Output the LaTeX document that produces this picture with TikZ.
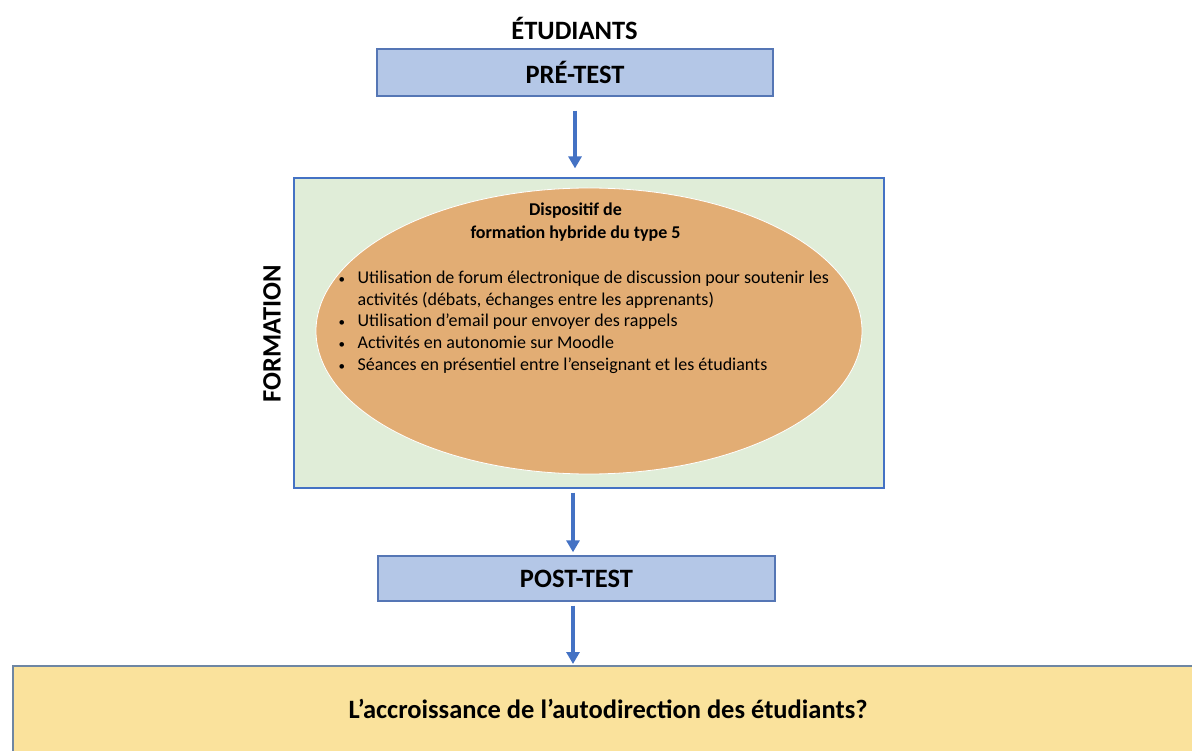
\documentclass[tikz,border=0pt]{standalone}
\usepackage{fontspec}
\setmainfont{Carlito}
\usetikzlibrary{shapes.geometric,arrows.meta}
\definecolor{boxblue}{HTML}{B4C7E7}
\definecolor{boxblueline}{HTML}{5576B5}
\definecolor{greenfill}{HTML}{E0EDD8}
\definecolor{framered}{HTML}{4472C4}
\definecolor{orangefill}{HTML}{E2AD74}
\definecolor{yellowfill}{HTML}{FAE29C}
\definecolor{yellowline}{HTML}{6E86A3}
\definecolor{arrowblue}{HTML}{4472C4}
\tikzset{
  testbox/.style={draw=boxblueline, line width=1.4pt, fill=boxblue, inner sep=0pt},
  bigtext/.style={font=\fontsize{26.5}{30}\selectfont\bfseries, inner sep=0pt},
  flowarrow/.style={draw=arrowblue, line width=3.2pt, -{Triangle[width=13pt,length=12pt]}},
}
\newcommand{\smallbul}{{\fontsize{13}{13}\selectfont\textbullet}}
\begin{document}
\begin{tikzpicture}[x=1pt,y=-1pt]
\useasboundingbox (0,0) rectangle (1192,751);
\clip (0,0) rectangle (1192,751);
% title
\node[bigtext] (etud) at (574.5,28) {ÉTUDIANTS};
% pre-test
\node[testbox, minimum width=396pt, minimum height=47pt] (pre) at (575,72.5) {};
\node[bigtext] (pretxt) at (pre.center) {PRÉ-TEST};
% formation frame
\node[draw=framered, line width=1.2pt, fill=greenfill, minimum width=590pt, minimum height=310pt, inner sep=0pt] (form) at (589,333) {};
\node[bigtext, rotate=90] (formlab) at (272,334) {FORMATION};
% ellipse
\node[ellipse, fill=orangefill, draw=white, line width=0.8pt, minimum width=546pt, minimum height=286pt, inner sep=0pt] (ell) at (589,331) {};
\node[font=\fontsize{18}{22.5}\selectfont\bfseries, align=center, inner sep=0pt] (elltitle) at (575.5,222) {Dispositif de\\formation hybride du type 5};
\node[anchor=north west, inner sep=0pt, font=\fontsize{18}{21.7}\selectfont] (list) at (338.5,268) {%
\begin{tabular}{@{}l@{\hspace{12.5pt}}l@{}}
\smallbul & Utilisation de forum électronique de discussion pour soutenir les\\
 & activités (débats, échanges entre les apprenants)\\
\smallbul & Utilisation d’email pour envoyer des rappels\\
\smallbul & Activités en autonomie sur Moodle\\
\smallbul & Séances en présentiel entre l’enseignant et les étudiants
\end{tabular}};
% post-test
\node[testbox, minimum width=397pt, minimum height=45pt] (post) at (576.5,578.5) {};
\node[bigtext] (posttxt) at (post.center) {POST-TEST};
% result
\node[draw=yellowline, line width=1.6pt, fill=yellowfill, anchor=north west, minimum width=1200pt, minimum height=100pt, inner sep=0pt] (res) at (12,665) {};
\node[bigtext] (restxt) at (608,709) {L’accroissance de l’autodirection des étudiants?};
% arrows
\coordinate (lineA) at (575,0);
\coordinate (lineB) at (573,0);
\draw[flowarrow, shorten <=14pt, shorten >=9pt] (pre.south -| lineA) -- (form.north -| lineA);
\draw[flowarrow, shorten <=4pt, shorten >=3pt] (form.south -| lineB) -- (post.north -| lineB);
\draw[flowarrow, shorten <=4pt, shorten >=1pt] (post.south -| lineB) -- (res.north -| lineB);
\end{tikzpicture}
\end{document}
